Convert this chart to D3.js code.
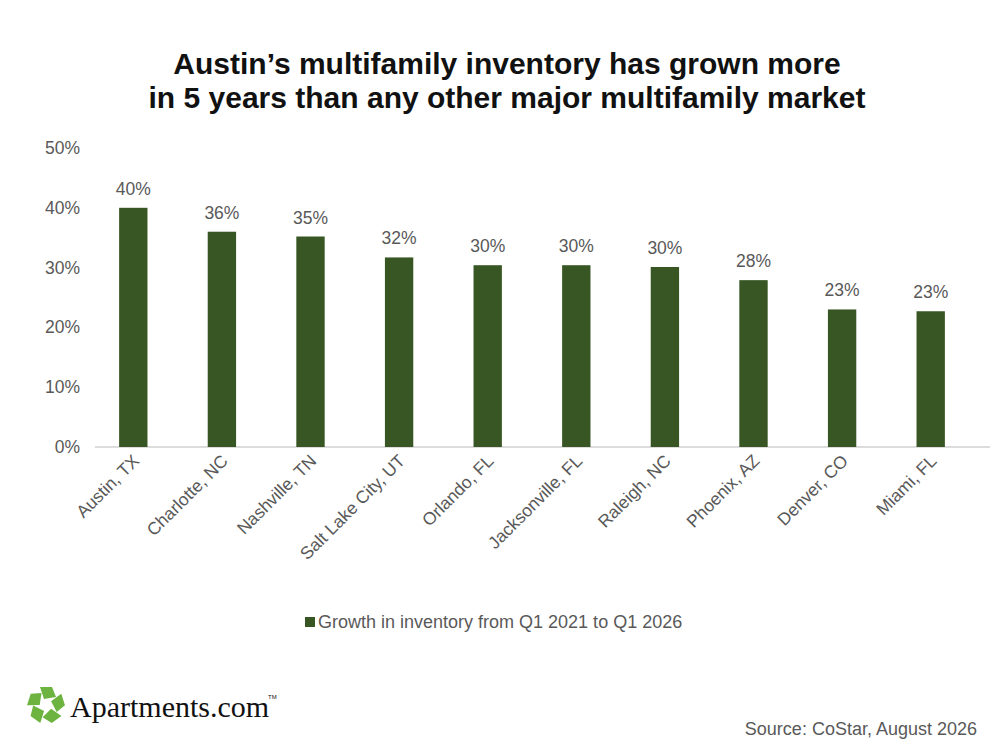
<!DOCTYPE html><html><head><meta charset="utf-8"><script src="https://cdn.jsdelivr.net/npm/d3@7"></script>
<style>body{margin:0;background:#fff}</style></head><body><svg id="c" width="1000" height="756"></svg>
<script>
const categories=["Austin, TX","Charlotte, NC","Nashville, TN","Salt Lake City, UT","Orlando, FL","Jacksonville, FL","Raleigh, NC","Phoenix, AZ","Denver, CO","Miami, FL"];
const values=[40,36,35.2,31.7,30.4,30.4,30.1,27.9,23,22.7];
const labels=["40%","36%","35%","32%","30%","30%","30%","28%","23%","23%"];
const yTicks=[0,10,20,30,40,50];
const svg=d3.select("#c"),F="Liberation Sans, Arial, sans-serif";
const x=d3.scaleBand().domain(categories).range([89,975]).paddingInner(0.68).paddingOuter(0.34);
const y=d3.scaleLinear().domain([0,50]).range([447,148]);
svg.append("text").attr("x",507).attr("y",74).attr("text-anchor","middle").attr("font-family",F).attr("font-weight","bold").attr("font-size",30).attr("fill","#111").text("Austin’s multifamily inventory has grown more");
svg.append("text").attr("x",507).attr("y",108).attr("text-anchor","middle").attr("font-family",F).attr("font-weight","bold").attr("font-size",30).attr("fill","#111").text("in 5 years than any other major multifamily market");
svg.selectAll(".yt").data(yTicks).join("text").attr("x",80).attr("y",d=>y(d)+6).attr("text-anchor","end").attr("font-family",F).attr("font-size",17.5).attr("fill","#595959").text(d=>d+"%");
svg.append("line").attr("x1",95).attr("x2",990).attr("y1",y(0)).attr("y2",y(0)).attr("stroke","#d0d0d0").attr("stroke-width",1.5);
svg.selectAll(".b").data(values).join("rect").attr("x",(d,i)=>x(categories[i])).attr("width",x.bandwidth()).attr("y",d=>y(d)).attr("height",d=>y(0)-y(d)).attr("fill","#375623");
svg.selectAll(".l").data(values).join("text").attr("x",(d,i)=>x(categories[i])+x.bandwidth()/2).attr("y",d=>y(d)-13).attr("text-anchor","middle").attr("font-family",F).attr("font-size",17.5).attr("fill","#595959").text((d,i)=>labels[i]);
svg.selectAll(".c").data(categories).join("text").attr("transform",d=>`translate(${x(d)+x.bandwidth()/2+7},${462}) rotate(-45)`).attr("text-anchor","end").attr("font-family",F).attr("font-size",17.5).attr("fill","#595959").text(d=>d);
svg.append("rect").attr("x",305).attr("y",617).attr("width",10).attr("height",10).attr("fill","#375623");
svg.append("text").attr("x",318).attr("y",628).attr("font-family",F).attr("font-size",18).attr("fill","#595959").text("Growth in inventory from Q1 2021 to Q1 2026");
svg.append("text").attr("x",977).attr("y",735).attr("text-anchor","end").attr("font-family",F).attr("font-size",18).attr("fill","#595959").text("Source: CoStar, August 2026");
// logo
const g=svg.append("g").attr("transform","translate(46,705)");
for(let k=0;k<5;k++){g.append("path").attr("d","M-6,-18 L6,-18 L10,-8 L-2,-6 Z").attr("fill","#6cb33f").attr("transform",`rotate(${k*72})`);}
svg.append("text").attr("x",70).attr("y",717).attr("font-family","Liberation Serif, serif").attr("font-size",30).attr("fill","#111").text("Apartments.com");
svg.append("text").attr("x",268).attr("y",699).attr("font-family",F).attr("font-size",6).attr("fill","#111").text("TM");
</script></body></html>
